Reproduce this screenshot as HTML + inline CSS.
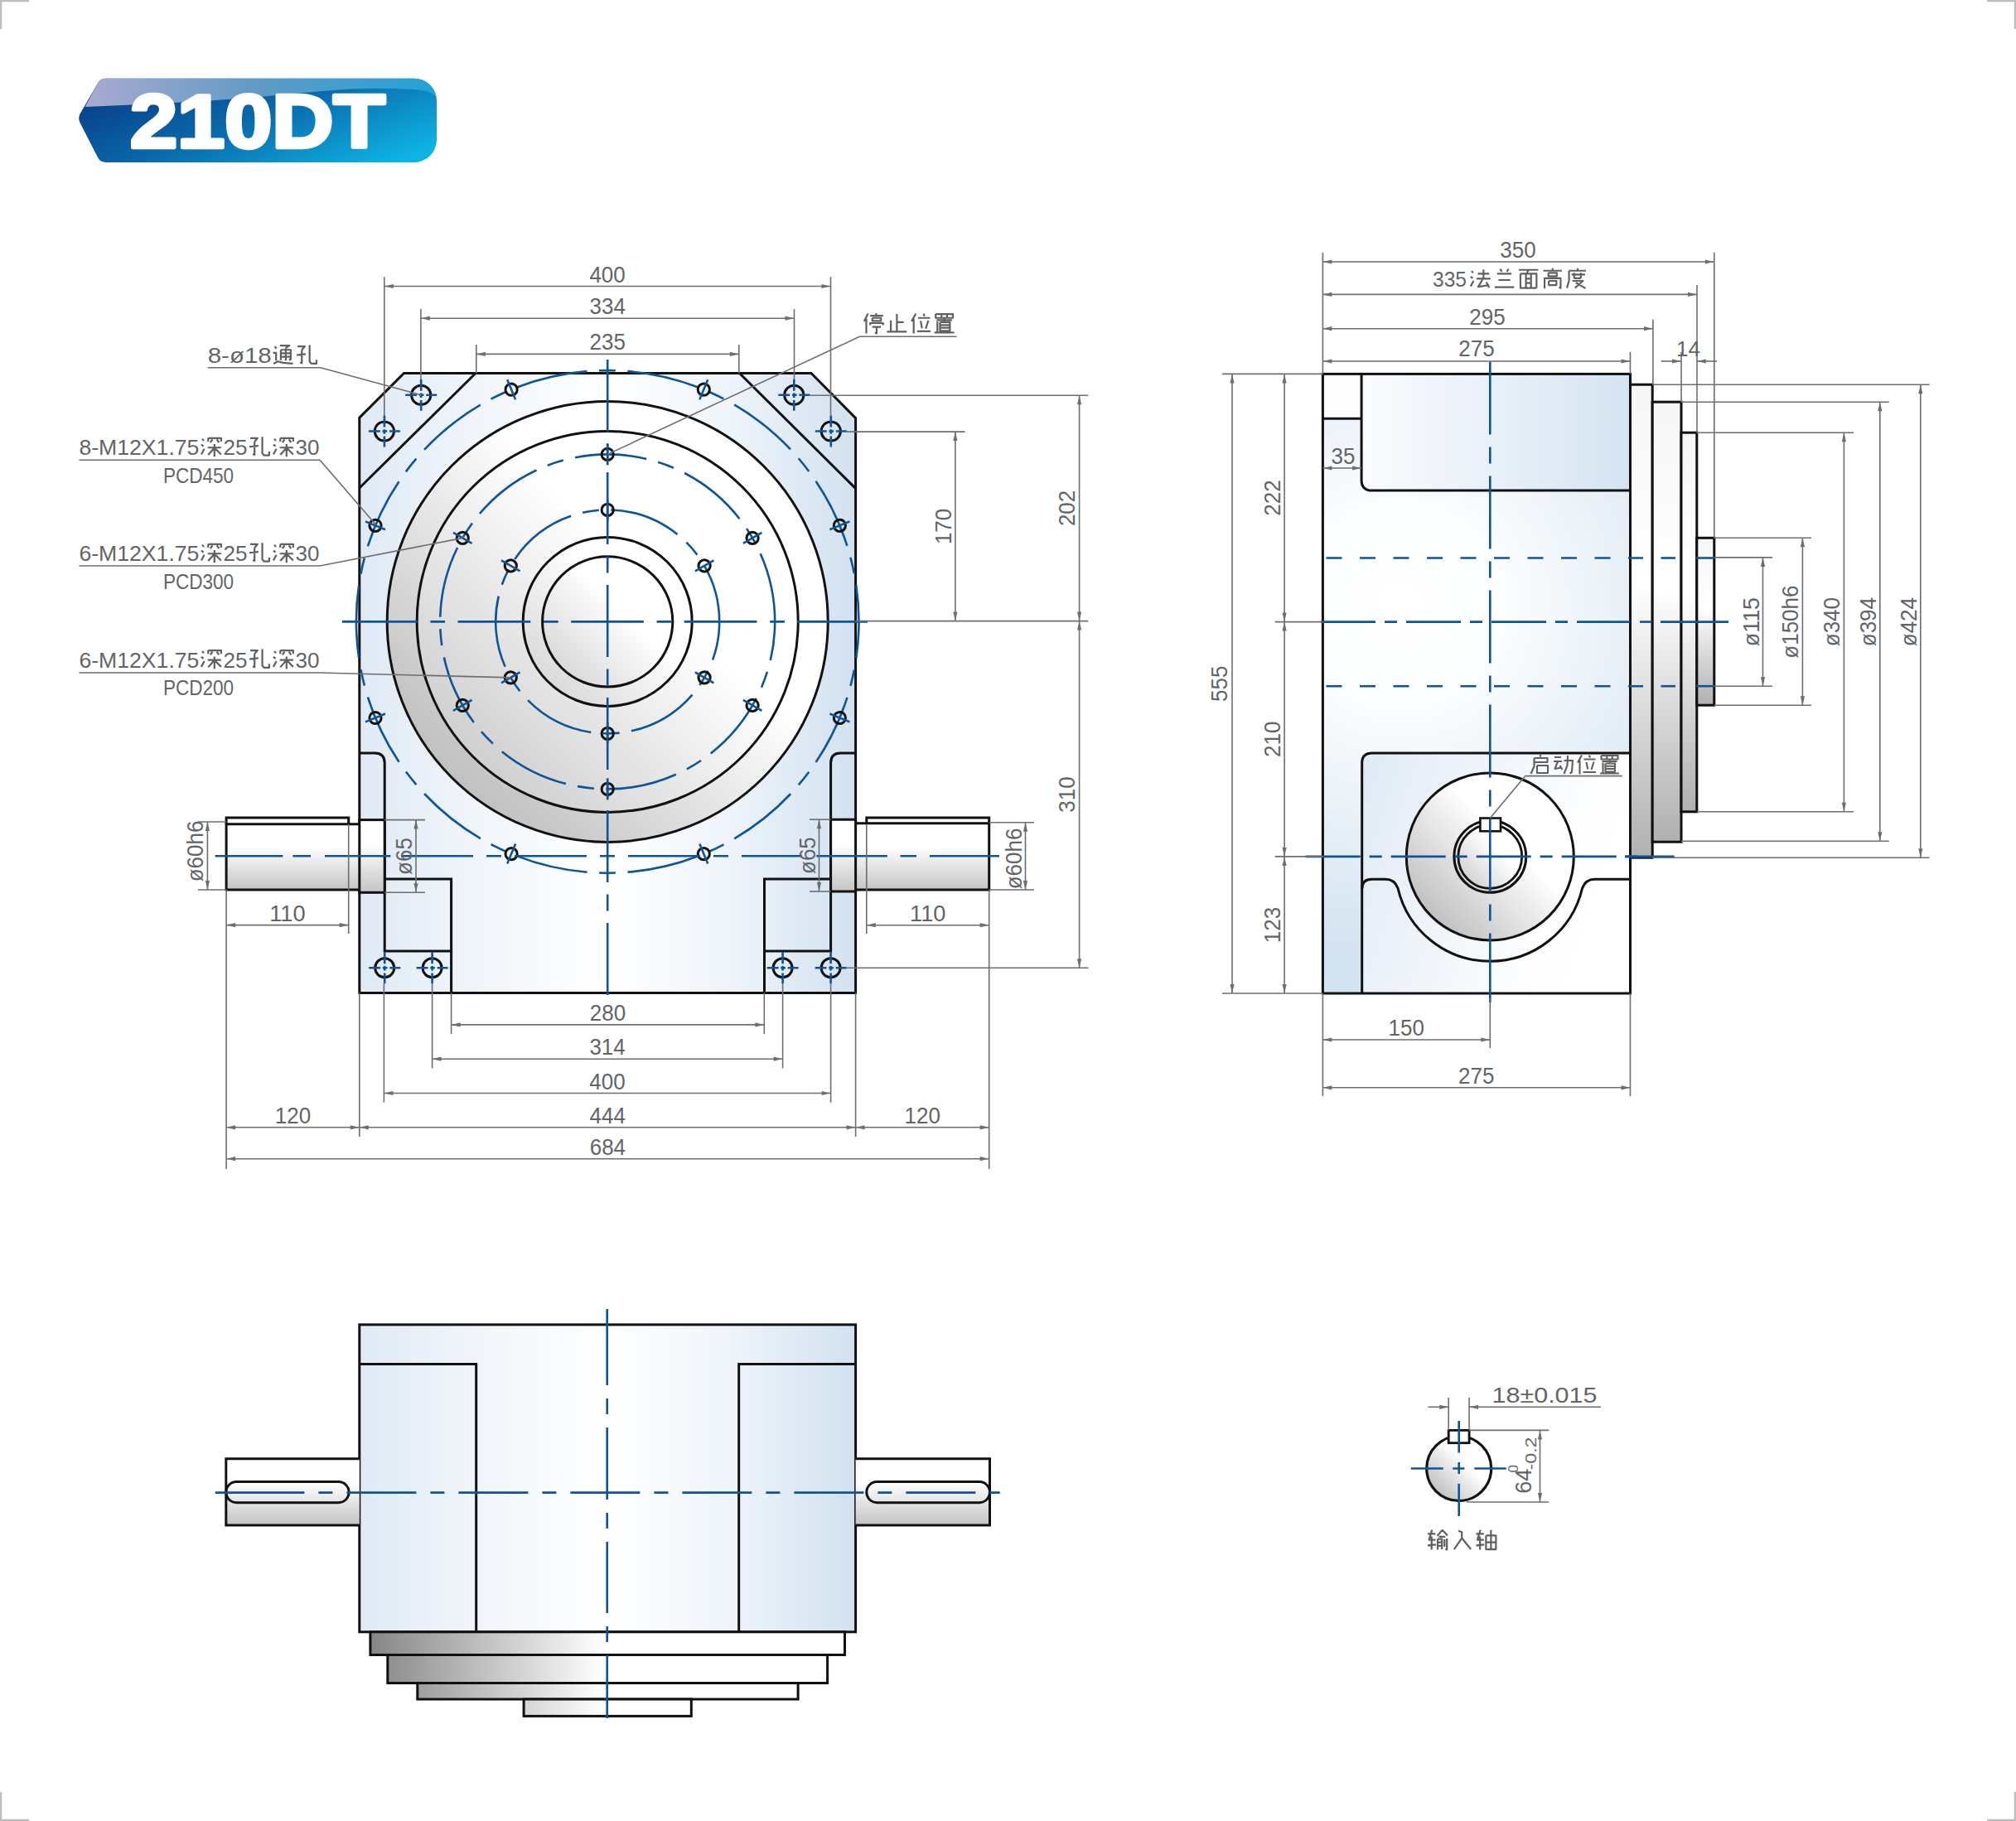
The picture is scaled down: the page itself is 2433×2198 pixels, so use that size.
<!DOCTYPE html><html><head><meta charset="utf-8"><style>
html,body{margin:0;padding:0;background:#fff;width:2433px;height:2198px;overflow:hidden}
svg{display:block}
text{font-family:"Liberation Sans",sans-serif;fill:#626568}
.k{stroke:#111;stroke-width:3.0;fill:none;stroke-linejoin:miter}
.b{stroke:#0f5596;stroke-width:2.6;fill:none}
.c{stroke:#0f5596;stroke-width:2.6;fill:none;stroke-dasharray:84 15 19 15}
.d{stroke:#6e6e6e;stroke-width:1.6;fill:none}
</style></head><body>
<svg width="2433" height="2198" viewBox="0 0 2433 2198">
<defs>
<linearGradient id="gBody" x1="0" y1="0" x2="1" y2="0">
 <stop offset="0" stop-color="#e0eaf5"/><stop offset="0.25" stop-color="#f1f6fb"/><stop offset="0.5" stop-color="#ffffff"/><stop offset="0.75" stop-color="#eef4fa"/><stop offset="1" stop-color="#d2e1f0"/>
</linearGradient>
<linearGradient id="gBodyR" x1="0" y1="0" x2="1" y2="0">
 <stop offset="0" stop-color="#fbfcfe"/><stop offset="1" stop-color="#d5e4f2"/>
</linearGradient>
<radialGradient id="gSide" gradientUnits="userSpaceOnUse" cx="1690" cy="730" r="420">
 <stop offset="0" stop-color="#ffffff"/><stop offset="0.3" stop-color="#fbfdfe"/><stop offset="1" stop-color="#d4e3f1"/>
</radialGradient>
<linearGradient id="gPock" x1="0" y1="0" x2="1" y2="0.3">
 <stop offset="0" stop-color="#e0eaf5"/><stop offset="0.8" stop-color="#fcfdfe"/><stop offset="1" stop-color="#ffffff"/>
</linearGradient>
<linearGradient id="gDisc2" x1="0.1" y1="0.9" x2="0.8" y2="0.2">
 <stop offset="0" stop-color="#cbcbcb"/><stop offset="0.72" stop-color="#ffffff"/><stop offset="1" stop-color="#ffffff"/>
</linearGradient>
<linearGradient id="gDisc3" x1="0.1" y1="0.9" x2="0.8" y2="0.2">
 <stop offset="0" stop-color="#d6d6d6"/><stop offset="0.72" stop-color="#ffffff"/><stop offset="1" stop-color="#ffffff"/>
</linearGradient>
<linearGradient id="gDisc" x1="0.1" y1="0.9" x2="0.8" y2="0.2">
 <stop offset="0" stop-color="#bababa"/><stop offset="0.72" stop-color="#ffffff"/><stop offset="1" stop-color="#ffffff"/>
</linearGradient>
<linearGradient id="gShaft" x1="0" y1="0" x2="0" y2="1">
 <stop offset="0" stop-color="#ffffff"/><stop offset="0.35" stop-color="#ffffff"/><stop offset="1" stop-color="#c4c4c4"/>
</linearGradient>
<linearGradient id="gFl" x1="0" y1="0" x2="0" y2="1">
 <stop offset="0" stop-color="#f6f6f6"/><stop offset="0.42" stop-color="#ffffff"/><stop offset="1" stop-color="#b0b0b0"/>
</linearGradient>
<linearGradient id="gFlH" gradientUnits="userSpaceOnUse" x1="447" y1="0" x2="730" y2="0">
 <stop offset="0" stop-color="#868686"/><stop offset="1" stop-color="#ffffff"/>
</linearGradient>
<linearGradient id="gBadge" x1="0" y1="0.2" x2="1" y2="0.8">
 <stop offset="0" stop-color="#083c86"/><stop offset="0.45" stop-color="#0a66a8"/><stop offset="1" stop-color="#0db3e3"/>
</linearGradient>
<linearGradient id="gHi" x1="0" y1="0" x2="1" y2="0">
 <stop offset="0" stop-color="#aaaad0"/><stop offset="0.5" stop-color="#5f9ac6"/><stop offset="1" stop-color="#22a3d6"/>
</linearGradient>
</defs>

<path d="M35,1 H1 V35" stroke="#bdbdbd" stroke-width="2.5" fill="none"/>
<path d="M2398,1 H2432 V35" stroke="#bdbdbd" stroke-width="2.5" fill="none"/>
<path d="M35,2197 H1 V2163" stroke="#bdbdbd" stroke-width="2.5" fill="none"/>
<path d="M2398,2197 H2432 V2163" stroke="#bdbdbd" stroke-width="2.5" fill="none"/>
<path d="M128,94.8 H500 A27,27 0 0 1 527,121.8 V168.9 A27,27 0 0 1 500,195.9 H128 Q121,195.9 118,190 L96.5,148 Q94,142.7 96.5,137.5 L118,100.6 Q121,94.8 128,94.8 Z" fill="url(#gBadge)"/>
<path d="M128,94.8 H500 A27,27 0 0 1 526.5,117 Q520,109 500,108 Q460,106 422,107.5 Q360,112 308,117.6 Q250,122 200,124.5 Q150,127 102.7,129 L118,100.6 Q121,94.8 128,94.8 Z" fill="url(#gHi)"/>
<text x="311" y="178.3" font-size="91" font-weight="bold" text-anchor="middle" textLength="308" lengthAdjust="spacingAndGlyphs" style="fill:#fff;stroke:#fff;stroke-width:4.5;stroke-linejoin:round">210DT</text>
<path d="M487.5,450.5 H979 L1032.6,504.6 V1198.5 H433.8 V504.2 Z" fill="url(#gBody)" stroke="#111" stroke-width="3.0"/>
<path d="M574,450.5 L433.8,589" class="k" />
<path d="M892.5,450.5 L1032.6,589.6" class="k" />
<path d="M433.8,909 H452.5 Q464.2,909 464.2,921 V1148 H544.6" class="k" />
<path d="M464.2,1061 H544.6 V1198.5" class="k" />
<path d="M1032.6,909 H1014.3 Q1002.6,909 1002.6,921 V1148 H922.5" class="k" />
<path d="M1002.6,1061 H922.5 V1198.5" class="k" />
<circle cx="733.2" cy="750.4" r="266" fill="url(#gDisc)" stroke="#111" stroke-width="3.0"/>
<circle cx="733.2" cy="750.4" r="230" fill="url(#gDisc2)" stroke="#111" stroke-width="3.0"/>
<circle cx="733.2" cy="750.4" r="102" fill="url(#gDisc3)" stroke="#111" stroke-width="3.0"/>
<circle cx="733.2" cy="750.4" r="78.6" fill="url(#gDisc3)" stroke="#111" stroke-width="3.0"/>
<circle cx="733.2" cy="750.4" r="303.3" class="b" stroke-dasharray="87 14.5 20 14.5" stroke-dashoffset="43.1"/>
<circle cx="733.2" cy="750.4" r="202" class="b" stroke-dasharray="87 14.5 20 14.5" stroke-dashoffset="40"/>
<circle cx="733.2" cy="750.4" r="135" class="b" stroke-dasharray="87 14.5 20 14.5" stroke-dashoffset="40"/>
<line x1="733.2" y1="434" x2="733.2" y2="1206" class="b" stroke-dasharray="87 14.5 20 14.5"/>
<line x1="413" y1="750.4" x2="1047" y2="750.4" class="b" stroke-dasharray="90.7 15.7 17.7 15.5 87.7 15.7 17.7 15.5 87.7 15.7 17.7 15.5 87.7 15.7 17.7 15.5 87.7 15.7 17.7 15.5 87.7 15.7 17.7 15.5"/>
<circle cx="1013.4" cy="634.3" r="7.1" fill="none" stroke="#111" stroke-width="3"/>
<line x1="1001.4" y1="639.3" x2="1025.4" y2="629.4" class="b"/>
<circle cx="849.3" cy="470.2" r="7.1" fill="none" stroke="#111" stroke-width="3"/>
<line x1="844.3" y1="482.2" x2="854.2" y2="458.2" class="b"/>
<circle cx="617.1" cy="470.2" r="7.1" fill="none" stroke="#111" stroke-width="3"/>
<line x1="622.1" y1="482.2" x2="612.2" y2="458.2" class="b"/>
<circle cx="453.0" cy="634.3" r="7.1" fill="none" stroke="#111" stroke-width="3"/>
<line x1="465.0" y1="639.3" x2="441.0" y2="629.4" class="b"/>
<circle cx="453.0" cy="866.5" r="7.1" fill="none" stroke="#111" stroke-width="3"/>
<line x1="465.0" y1="861.5" x2="441.0" y2="871.4" class="b"/>
<circle cx="617.1" cy="1030.6" r="7.1" fill="none" stroke="#111" stroke-width="3"/>
<line x1="622.1" y1="1018.6" x2="612.2" y2="1042.6" class="b"/>
<circle cx="849.3" cy="1030.6" r="7.1" fill="none" stroke="#111" stroke-width="3"/>
<line x1="844.3" y1="1018.6" x2="854.2" y2="1042.6" class="b"/>
<circle cx="1013.4" cy="866.5" r="7.1" fill="none" stroke="#111" stroke-width="3"/>
<line x1="1001.4" y1="861.5" x2="1025.4" y2="871.4" class="b"/>
<circle cx="908.1" cy="649.4" r="7.1" fill="none" stroke="#111" stroke-width="3"/>
<line x1="896.9" y1="655.9" x2="919.4" y2="642.9" class="b"/>
<circle cx="850.1" cy="682.9" r="7.1" fill="none" stroke="#111" stroke-width="3"/>
<line x1="838.9" y1="689.4" x2="861.4" y2="676.4" class="b"/>
<circle cx="733.2" cy="548.4" r="7.1" fill="none" stroke="#111" stroke-width="3"/>
<line x1="733.2" y1="561.4" x2="733.2" y2="535.4" class="b"/>
<circle cx="733.2" cy="615.4" r="7.1" fill="none" stroke="#111" stroke-width="3"/>
<line x1="733.2" y1="628.4" x2="733.2" y2="602.4" class="b"/>
<circle cx="558.3" cy="649.4" r="7.1" fill="none" stroke="#111" stroke-width="3"/>
<line x1="569.5" y1="655.9" x2="547.0" y2="642.9" class="b"/>
<circle cx="616.3" cy="682.9" r="7.1" fill="none" stroke="#111" stroke-width="3"/>
<line x1="627.5" y1="689.4" x2="605.0" y2="676.4" class="b"/>
<circle cx="558.3" cy="851.4" r="7.1" fill="none" stroke="#111" stroke-width="3"/>
<line x1="569.5" y1="844.9" x2="547.0" y2="857.9" class="b"/>
<circle cx="616.3" cy="817.9" r="7.1" fill="none" stroke="#111" stroke-width="3"/>
<line x1="627.5" y1="811.4" x2="605.0" y2="824.4" class="b"/>
<circle cx="733.2" cy="952.4" r="7.1" fill="none" stroke="#111" stroke-width="3"/>
<line x1="733.2" y1="939.4" x2="733.2" y2="965.4" class="b"/>
<circle cx="733.2" cy="885.4" r="7.1" fill="none" stroke="#111" stroke-width="3"/>
<line x1="733.2" y1="872.4" x2="733.2" y2="898.4" class="b"/>
<circle cx="908.1" cy="851.4" r="7.1" fill="none" stroke="#111" stroke-width="3"/>
<line x1="896.9" y1="844.9" x2="919.4" y2="857.9" class="b"/>
<circle cx="850.1" cy="817.9" r="7.1" fill="none" stroke="#111" stroke-width="3"/>
<line x1="838.9" y1="811.4" x2="861.4" y2="824.4" class="b"/>
<circle cx="508.2" cy="476.8" r="11.6" fill="none" stroke="#111" stroke-width="3"/>
<line x1="489.2" y1="476.8" x2="527.2" y2="476.8" class="b" stroke-dasharray="13.9 2.8 5.6 2.8 13.9"/>
<line x1="508.2" y1="457.8" x2="508.2" y2="495.8" class="b" stroke-dasharray="13.9 2.8 5.6 2.8 13.9"/>
<circle cx="463.9" cy="520.5" r="11.6" fill="none" stroke="#111" stroke-width="3"/>
<line x1="444.9" y1="520.5" x2="482.9" y2="520.5" class="b" stroke-dasharray="13.9 2.8 5.6 2.8 13.9"/>
<line x1="463.9" y1="501.5" x2="463.9" y2="539.5" class="b" stroke-dasharray="13.9 2.8 5.6 2.8 13.9"/>
<circle cx="958.3" cy="476.8" r="11.6" fill="none" stroke="#111" stroke-width="3"/>
<line x1="939.3" y1="476.8" x2="977.3" y2="476.8" class="b" stroke-dasharray="13.9 2.8 5.6 2.8 13.9"/>
<line x1="958.3" y1="457.8" x2="958.3" y2="495.8" class="b" stroke-dasharray="13.9 2.8 5.6 2.8 13.9"/>
<circle cx="1002.8" cy="520.5" r="11.6" fill="none" stroke="#111" stroke-width="3"/>
<line x1="983.8" y1="520.5" x2="1021.8" y2="520.5" class="b" stroke-dasharray="13.9 2.8 5.6 2.8 13.9"/>
<line x1="1002.8" y1="501.5" x2="1002.8" y2="539.5" class="b" stroke-dasharray="13.9 2.8 5.6 2.8 13.9"/>
<circle cx="464.2" cy="1168.3" r="11.5" fill="none" stroke="#111" stroke-width="3"/>
<line x1="445.2" y1="1168.3" x2="483.2" y2="1168.3" class="b" stroke-dasharray="13.9 2.8 5.6 2.8 13.9"/>
<line x1="464.2" y1="1149.3" x2="464.2" y2="1187.3" class="b" stroke-dasharray="13.9 2.8 5.6 2.8 13.9"/>
<circle cx="521.6" cy="1168.3" r="11.5" fill="none" stroke="#111" stroke-width="3"/>
<line x1="502.6" y1="1168.3" x2="540.6" y2="1168.3" class="b" stroke-dasharray="13.9 2.8 5.6 2.8 13.9"/>
<line x1="521.6" y1="1149.3" x2="521.6" y2="1187.3" class="b" stroke-dasharray="13.9 2.8 5.6 2.8 13.9"/>
<circle cx="944.6" cy="1168.3" r="11.5" fill="none" stroke="#111" stroke-width="3"/>
<line x1="925.6" y1="1168.3" x2="963.6" y2="1168.3" class="b" stroke-dasharray="13.9 2.8 5.6 2.8 13.9"/>
<line x1="944.6" y1="1149.3" x2="944.6" y2="1187.3" class="b" stroke-dasharray="13.9 2.8 5.6 2.8 13.9"/>
<circle cx="1002.6" cy="1168.3" r="11.5" fill="none" stroke="#111" stroke-width="3"/>
<line x1="983.6" y1="1168.3" x2="1021.6" y2="1168.3" class="b" stroke-dasharray="13.9 2.8 5.6 2.8 13.9"/>
<line x1="1002.6" y1="1149.3" x2="1002.6" y2="1187.3" class="b" stroke-dasharray="13.9 2.8 5.6 2.8 13.9"/>
<rect x="273.1" y="994.7" width="160.7" height="79.3" fill="url(#gShaft)"/>
<path d="M433.8,994.7 H273.1 V1074 H433.8" class="k" />
<path d="M273.1,994.7 V987.1 H420.7 V994.7" class="k" />
<rect x="433.8" y="989.6" width="30.4" height="87.7" fill="url(#gShaft)" stroke="#111" stroke-width="3.0"/>
<rect x="1032.6" y="993.7" width="161.1" height="80.3" fill="url(#gShaft)"/>
<path d="M1032.6,993.7 H1193.7 V1074 H1032.6" class="k" />
<path d="M1193.7,993.7 V987.1 H1045.8 V993.7" class="k" />
<rect x="1002.6" y="989.2" width="30.0" height="86.8" fill="url(#gShaft)" stroke="#111" stroke-width="3.0"/>
<path d="M259.6,1033.3 H341.4 M353.4,1033.3 H375.1 M392,1033.3 H471.3 M484,1033.3 H571 M587,1033.3 H605 M621,1033.3 H708 M724,1033.3 H742 M758,1033.3 H845 M861,1033.3 H879 M895,1033.3 H968 M985.4,1033.3 H1070.8 M1086.5,1033.3 H1106 M1121.9,1033.3 H1206" class="b"/>
<line x1="463.8" y1="334.2" x2="463.8" y2="501.5" class="d"/>
<line x1="1002.5" y1="334.2" x2="1002.5" y2="501.5" class="d"/>
<line x1="463.8" y1="345.5" x2="1002.5" y2="345.5" class="d"/>
<path d="M463.8,345.5 L474.8,342.9 L474.8,348.1Z" fill="#6e6e6e"/>
<path d="M1002.5,345.5 L991.5,348.1 L991.5,342.9Z" fill="#6e6e6e"/>
<text x="733.1" y="340.5" font-size="28.5" text-anchor="middle" textLength="43.4" lengthAdjust="spacingAndGlyphs">400</text>
<line x1="507.9" y1="372.9" x2="507.9" y2="457.8" class="d"/>
<line x1="958.5" y1="372.9" x2="958.5" y2="457.8" class="d"/>
<line x1="507.9" y1="384.2" x2="958.5" y2="384.2" class="d"/>
<path d="M507.9,384.2 L518.9,381.6 L518.9,386.8Z" fill="#6e6e6e"/>
<path d="M958.5,384.2 L947.5,386.8 L947.5,381.6Z" fill="#6e6e6e"/>
<text x="733.2" y="379.2" font-size="28.5" text-anchor="middle" textLength="43.4" lengthAdjust="spacingAndGlyphs">334</text>
<line x1="574.8" y1="416.0" x2="574.8" y2="450.5" class="d"/>
<line x1="891.8" y1="416.0" x2="891.8" y2="450.5" class="d"/>
<line x1="574.8" y1="427.4" x2="891.8" y2="427.4" class="d"/>
<path d="M574.8,427.4 L585.8,424.8 L585.8,430.0Z" fill="#6e6e6e"/>
<path d="M891.8,427.4 L880.8,430.0 L880.8,424.8Z" fill="#6e6e6e"/>
<text x="733.3" y="422.4" font-size="28.5" text-anchor="middle" textLength="43.4" lengthAdjust="spacingAndGlyphs">235</text>
<line x1="977.3" y1="477.2" x2="1313.2" y2="477.2" class="d"/>
<line x1="1021.8" y1="521.1" x2="1164.6" y2="521.1" class="d"/>
<line x1="1032.6" y1="749.6" x2="1313.2" y2="749.6" class="d"/>
<line x1="1021.6" y1="1168.3" x2="1313.5" y2="1168.3" class="d"/>
<line x1="1152.9" y1="521.1" x2="1152.9" y2="749.6" class="d"/>
<path d="M1152.9,521.1 L1155.5,532.1 L1150.3,532.1Z" fill="#6e6e6e"/>
<path d="M1152.9,749.6 L1150.3,738.6 L1155.5,738.6Z" fill="#6e6e6e"/>
<text transform="translate(1147.5,635.4) rotate(-90)" font-size="28.5" text-anchor="middle" textLength="43.4" lengthAdjust="spacingAndGlyphs">170</text>
<line x1="1302.6" y1="477.2" x2="1302.6" y2="749.6" class="d"/>
<path d="M1302.6,477.2 L1305.2,488.2 L1300.0,488.2Z" fill="#6e6e6e"/>
<path d="M1302.6,749.6 L1300.0,738.6 L1305.2,738.6Z" fill="#6e6e6e"/>
<text transform="translate(1297.0,613.4) rotate(-90)" font-size="28.5" text-anchor="middle" textLength="43.4" lengthAdjust="spacingAndGlyphs">202</text>
<line x1="1302.6" y1="749.6" x2="1302.6" y2="1168.3" class="d"/>
<path d="M1302.6,749.6 L1305.2,760.6 L1300.0,760.6Z" fill="#6e6e6e"/>
<path d="M1302.6,1168.3 L1300.0,1157.3 L1305.2,1157.3Z" fill="#6e6e6e"/>
<text transform="translate(1297.0,959.0) rotate(-90)" font-size="28.5" text-anchor="middle" textLength="43.4" lengthAdjust="spacingAndGlyphs">310</text>
<line x1="273.1" y1="1074.0" x2="273.1" y2="1411.0" class="d"/>
<line x1="420.7" y1="995.0" x2="420.7" y2="1127.0" class="d"/>
<line x1="273.1" y1="1116.6" x2="420.7" y2="1116.6" class="d"/>
<path d="M273.1,1116.6 L284.1,1114.0 L284.1,1119.2Z" fill="#6e6e6e"/>
<path d="M420.7,1116.6 L409.7,1119.2 L409.7,1114.0Z" fill="#6e6e6e"/>
<text x="346.9" y="1111.6" font-size="28.5" text-anchor="middle" textLength="43.4" lengthAdjust="spacingAndGlyphs">110</text>
<line x1="239.0" y1="992.0" x2="273.1" y2="992.0" class="d"/>
<line x1="239.0" y1="1074.0" x2="273.1" y2="1074.0" class="d"/>
<line x1="250.4" y1="992.0" x2="250.4" y2="1074.0" class="d"/>
<path d="M250.4,992.0 L253.0,1003.0 L247.8,1003.0Z" fill="#6e6e6e"/>
<path d="M250.4,1074.0 L247.8,1063.0 L253.0,1063.0Z" fill="#6e6e6e"/>
<text transform="translate(245.0,1027.5) rotate(-90)" font-size="28.5" text-anchor="middle" textLength="73.7" lengthAdjust="spacingAndGlyphs">ø60h6</text>
<line x1="464.2" y1="989.6" x2="513.0" y2="989.6" class="d"/>
<line x1="464.2" y1="1077.3" x2="513.0" y2="1077.3" class="d"/>
<line x1="502.0" y1="989.6" x2="502.0" y2="1077.3" class="d"/>
<path d="M502.0,989.6 L504.6,1000.6 L499.4,1000.6Z" fill="#6e6e6e"/>
<path d="M502.0,1077.3 L499.4,1066.3 L504.6,1066.3Z" fill="#6e6e6e"/>
<text transform="translate(497.0,1033.5) rotate(-90)" font-size="28.5" text-anchor="middle" textLength="44.8" lengthAdjust="spacingAndGlyphs">ø65</text>
<line x1="1193.7" y1="1074.0" x2="1193.7" y2="1411.0" class="d"/>
<line x1="1045.8" y1="995.0" x2="1045.8" y2="1127.0" class="d"/>
<line x1="1045.8" y1="1116.7" x2="1193.7" y2="1116.7" class="d"/>
<path d="M1045.8,1116.7 L1056.8,1114.1 L1056.8,1119.3Z" fill="#6e6e6e"/>
<path d="M1193.7,1116.7 L1182.7,1119.3 L1182.7,1114.1Z" fill="#6e6e6e"/>
<text x="1119.8" y="1111.7" font-size="28.5" text-anchor="middle" textLength="43.4" lengthAdjust="spacingAndGlyphs">110</text>
<line x1="1193.7" y1="992.7" x2="1247.9" y2="992.7" class="d"/>
<line x1="1193.7" y1="1074.0" x2="1247.9" y2="1074.0" class="d"/>
<line x1="1237.5" y1="992.7" x2="1237.5" y2="1074.0" class="d"/>
<path d="M1237.5,992.7 L1240.1,1003.7 L1234.9,1003.7Z" fill="#6e6e6e"/>
<path d="M1237.5,1074.0 L1234.9,1063.0 L1240.1,1063.0Z" fill="#6e6e6e"/>
<text transform="translate(1232.5,1036.5) rotate(-90)" font-size="28.5" text-anchor="middle" textLength="73.7" lengthAdjust="spacingAndGlyphs">ø60h6</text>
<line x1="977.0" y1="989.2" x2="1002.6" y2="989.2" class="d"/>
<line x1="977.0" y1="1076.0" x2="1002.6" y2="1076.0" class="d"/>
<line x1="988.5" y1="989.2" x2="988.5" y2="1076.0" class="d"/>
<path d="M988.5,989.2 L991.1,1000.2 L985.9,1000.2Z" fill="#6e6e6e"/>
<path d="M988.5,1076.0 L985.9,1065.0 L991.1,1065.0Z" fill="#6e6e6e"/>
<text transform="translate(984.0,1032.6) rotate(-90)" font-size="28.5" text-anchor="middle" textLength="44.8" lengthAdjust="spacingAndGlyphs">ø65</text>
<line x1="544.6" y1="1198.5" x2="544.6" y2="1248.0" class="d"/>
<line x1="922.3" y1="1198.5" x2="922.3" y2="1248.0" class="d"/>
<line x1="544.6" y1="1236.9" x2="922.3" y2="1236.9" class="d"/>
<path d="M544.6,1236.9 L555.6,1234.3 L555.6,1239.5Z" fill="#6e6e6e"/>
<path d="M922.3,1236.9 L911.3,1239.5 L911.3,1234.3Z" fill="#6e6e6e"/>
<text x="733.5" y="1231.9" font-size="28.5" text-anchor="middle" textLength="43.4" lengthAdjust="spacingAndGlyphs">280</text>
<line x1="521.6" y1="1187.3" x2="521.6" y2="1289.4" class="d"/>
<line x1="944.6" y1="1187.3" x2="944.6" y2="1289.4" class="d"/>
<line x1="521.6" y1="1278.2" x2="944.6" y2="1278.2" class="d"/>
<path d="M521.6,1278.2 L532.6,1275.6 L532.6,1280.8Z" fill="#6e6e6e"/>
<path d="M944.6,1278.2 L933.6,1280.8 L933.6,1275.6Z" fill="#6e6e6e"/>
<text x="733.1" y="1273.2" font-size="28.5" text-anchor="middle" textLength="43.4" lengthAdjust="spacingAndGlyphs">314</text>
<line x1="463.4" y1="1187.3" x2="463.4" y2="1330.7" class="d"/>
<line x1="1002.6" y1="1187.3" x2="1002.6" y2="1330.7" class="d"/>
<line x1="463.4" y1="1319.5" x2="1002.6" y2="1319.5" class="d"/>
<path d="M463.4,1319.5 L474.4,1316.9 L474.4,1322.1Z" fill="#6e6e6e"/>
<path d="M1002.6,1319.5 L991.6,1322.1 L991.6,1316.9Z" fill="#6e6e6e"/>
<text x="733.0" y="1314.5" font-size="28.5" text-anchor="middle" textLength="43.4" lengthAdjust="spacingAndGlyphs">400</text>
<line x1="433.8" y1="1198.5" x2="433.8" y2="1372.0" class="d"/>
<line x1="1032.6" y1="1198.5" x2="1032.6" y2="1372.0" class="d"/>
<line x1="433.8" y1="1360.8" x2="1032.6" y2="1360.8" class="d"/>
<path d="M433.8,1360.8 L444.8,1358.2 L444.8,1363.4Z" fill="#6e6e6e"/>
<path d="M1032.6,1360.8 L1021.6,1363.4 L1021.6,1358.2Z" fill="#6e6e6e"/>
<text x="733.2" y="1355.8" font-size="28.5" text-anchor="middle" textLength="43.4" lengthAdjust="spacingAndGlyphs">444</text>
<line x1="273.1" y1="1360.8" x2="433.8" y2="1360.8" class="d"/>
<path d="M273.1,1360.8 L284.1,1358.2 L284.1,1363.4Z" fill="#6e6e6e"/>
<path d="M433.8,1360.8 L422.8,1363.4 L422.8,1358.2Z" fill="#6e6e6e"/>
<text x="353.5" y="1355.8" font-size="28.5" text-anchor="middle" textLength="43.4" lengthAdjust="spacingAndGlyphs">120</text>
<line x1="1032.6" y1="1360.8" x2="1193.7" y2="1360.8" class="d"/>
<path d="M1032.6,1360.8 L1043.6,1358.2 L1043.6,1363.4Z" fill="#6e6e6e"/>
<path d="M1193.7,1360.8 L1182.7,1363.4 L1182.7,1358.2Z" fill="#6e6e6e"/>
<text x="1113.2" y="1355.8" font-size="28.5" text-anchor="middle" textLength="43.4" lengthAdjust="spacingAndGlyphs">120</text>
<line x1="273.1" y1="1398.7" x2="1193.7" y2="1398.7" class="d"/>
<path d="M273.1,1398.7 L284.1,1396.1 L284.1,1401.3Z" fill="#6e6e6e"/>
<path d="M1193.7,1398.7 L1182.7,1401.3 L1182.7,1396.1Z" fill="#6e6e6e"/>
<text x="733.4" y="1393.7" font-size="28.5" text-anchor="middle" textLength="43.4" lengthAdjust="spacingAndGlyphs">684</text>
<rect x="1596.4" y="451.4" width="371.1" height="747.6" fill="url(#gSide)"/>
<path d="M1643.7,1199.0 V921 Q1643.7,909 1655.7,909 H1967.5 V1199.0 Z" fill="url(#gPock)"/>
<path d="M1643.1,451.4 V580 Q1643.1,592 1655.7,592 H1967.5 V451.4 Z" fill="url(#gBodyR)"/>
<rect x="1596.4" y="451.4" width="46.7" height="53.8" fill="#fdfdfe"/>
<rect x="1596.4" y="451.4" width="371.1" height="747.6" class="k"/>
<path d="M1596.4,505.2 H1643.1" class="k" />
<path d="M1643.1,451.4 V579.4 Q1643.1,592 1655.7,592 H1967.5" class="k" />
<path d="M1643.7,1199.0 V921 Q1643.7,909 1655.7,909 H1967.5" class="k" />
<path d="M1643.7,1073 Q1643.7,1061.3 1655.7,1061.3 H1672 Q1683,1061.3 1687,1072 A114.3,114.3 0 0 0 1909.6,1072 Q1913.6,1061.3 1924.6,1061.3 H1967.5" class="k" />
<circle cx="1798.3" cy="1033.9" r="101" fill="url(#gDisc)" stroke="#111" stroke-width="3.0"/>
<circle cx="1798.3" cy="1033.9" r="43.4" fill="url(#gDisc2)" stroke="#111" stroke-width="3"/>
<circle cx="1798.3" cy="1033.9" r="38.4" fill="none" stroke="#111" stroke-width="2.8"/>
<rect x="1786.4" y="987.5" width="24.6" height="15.8" fill="#fff" stroke="#111" stroke-width="2.6"/>
<rect x="1967.5" y="464.2" width="26.7" height="571.0" fill="url(#gFl)" stroke="#111" stroke-width="3.0"/>
<rect x="1994.2" y="485.2" width="34.8" height="531.0" fill="url(#gFl)" stroke="#111" stroke-width="3.0"/>
<rect x="2029" y="522.2" width="18.8" height="457.6" fill="url(#gFl)" stroke="#111" stroke-width="3.0"/>
<rect x="2047.8" y="649.3" width="21.0" height="201.9" fill="url(#gFl)" stroke="#111" stroke-width="3.0"/>
<line x1="1600.5" y1="673.5" x2="1983" y2="673.5" class="b" stroke-dasharray="19 21.5"/>
<line x1="2004.5" y1="673.5" x2="2022" y2="673.5" class="b"/>
<line x1="2047" y1="673.5" x2="2068.8" y2="673.5" class="b"/>
<line x1="1600.5" y1="828.2" x2="1983" y2="828.2" class="b" stroke-dasharray="19 21.5"/>
<line x1="2004.5" y1="828.2" x2="2022" y2="828.2" class="b"/>
<line x1="2047" y1="828.2" x2="2068.8" y2="828.2" class="b"/>
<line x1="1798.3" y1="436.6" x2="1798.3" y2="1210" class="b" stroke-dasharray="88 15 20 15"/>
<line x1="1594" y1="750.6" x2="1967" y2="750.6" class="b" stroke-dasharray="66 11 15 11"/>
<line x1="1979" y1="750.6" x2="1993.5" y2="750.6" class="b"/>
<line x1="2004" y1="750.6" x2="2086" y2="750.6" class="b"/>
<line x1="1575.7" y1="1033.9" x2="1983" y2="1033.9" class="b" stroke-dasharray="66 11 15 11"/>
<line x1="1961" y1="1033.9" x2="2020.7" y2="1033.9" class="b"/>
<line x1="1596.4" y1="304.8" x2="1596.4" y2="451.4" class="d"/>
<line x1="2068.8" y1="304.8" x2="2068.8" y2="649.3" class="d"/>
<line x1="2048.0" y1="344.0" x2="2048.0" y2="522.2" class="d"/>
<line x1="1994.9" y1="385.4" x2="1994.9" y2="464.2" class="d"/>
<line x1="1967.5" y1="424.8" x2="1967.5" y2="451.4" class="d"/>
<line x1="2029.0" y1="425.0" x2="2029.0" y2="485.2" class="d"/>
<line x1="1596.4" y1="316.0" x2="2068.8" y2="316.0" class="d"/>
<path d="M1596.4,316.0 L1607.4,313.4 L1607.4,318.6Z" fill="#6e6e6e"/>
<path d="M2068.8,316.0 L2057.8,318.6 L2057.8,313.4Z" fill="#6e6e6e"/>
<text x="1832.0" y="311.3" font-size="28.5" text-anchor="middle" textLength="43.4" lengthAdjust="spacingAndGlyphs">350</text>
<line x1="1596.4" y1="355.4" x2="2048.0" y2="355.4" class="d"/>
<path d="M1596.4,355.4 L1607.4,352.8 L1607.4,358.0Z" fill="#6e6e6e"/>
<path d="M2048.0,355.4 L2037.0,358.0 L2037.0,352.8Z" fill="#6e6e6e"/>
<text x="1729" y="346" font-size="26" textLength="41" lengthAdjust="spacingAndGlyphs">335</text>
<line x1="1596.4" y1="396.7" x2="1994.9" y2="396.7" class="d"/>
<path d="M1596.4,396.7 L1607.4,394.1 L1607.4,399.3Z" fill="#6e6e6e"/>
<path d="M1994.9,396.7 L1983.9,399.3 L1983.9,394.1Z" fill="#6e6e6e"/>
<text x="1795.0" y="391.9" font-size="28.5" text-anchor="middle" textLength="43.4" lengthAdjust="spacingAndGlyphs">295</text>
<line x1="1596.4" y1="436.0" x2="1967.5" y2="436.0" class="d"/>
<path d="M1596.4,436.0 L1607.4,433.4 L1607.4,438.6Z" fill="#6e6e6e"/>
<path d="M1967.5,436.0 L1956.5,438.6 L1956.5,433.4Z" fill="#6e6e6e"/>
<text x="1782.0" y="430.2" font-size="28.5" text-anchor="middle" textLength="43.4" lengthAdjust="spacingAndGlyphs">275</text>
<line x1="2004.6" y1="436.0" x2="2029.0" y2="436.0" class="d"/>
<path d="M2029.0,436.0 L2018.0,438.6 L2018.0,433.4Z" fill="#6e6e6e"/>
<line x1="2047.8" y1="436.0" x2="2072.0" y2="436.0" class="d"/>
<path d="M2047.8,436.0 L2058.8,433.4 L2058.8,438.6Z" fill="#6e6e6e"/>
<text x="2037.5" y="430" font-size="26" text-anchor="middle">14</text>
<line x1="1596.4" y1="565.0" x2="1643.1" y2="565.0" class="d"/>
<path d="M1596.4,565.0 L1607.4,562.4 L1607.4,567.6Z" fill="#6e6e6e"/>
<path d="M1643.1,565.0 L1632.1,567.6 L1632.1,562.4Z" fill="#6e6e6e"/>
<text x="1621.0" y="560.0" font-size="28.5" text-anchor="middle" textLength="28.9" lengthAdjust="spacingAndGlyphs">35</text>
<line x1="1475.0" y1="451.4" x2="1596.4" y2="451.4" class="d"/>
<line x1="1475.0" y1="1199.0" x2="1596.4" y2="1199.0" class="d"/>
<line x1="1538.6" y1="750.6" x2="1596.4" y2="750.6" class="d"/>
<line x1="1538.6" y1="1033.9" x2="1596.4" y2="1033.9" class="d"/>
<line x1="1487.0" y1="451.4" x2="1487.0" y2="1199.0" class="d"/>
<path d="M1487.0,451.4 L1489.6,462.4 L1484.4,462.4Z" fill="#6e6e6e"/>
<path d="M1487.0,1199.0 L1484.4,1188.0 L1489.6,1188.0Z" fill="#6e6e6e"/>
<text transform="translate(1481.0,825.2) rotate(-90)" font-size="28.5" text-anchor="middle" textLength="43.4" lengthAdjust="spacingAndGlyphs">555</text>
<line x1="1550.1" y1="451.4" x2="1550.1" y2="750.6" class="d"/>
<path d="M1550.1,451.4 L1552.7,462.4 L1547.5,462.4Z" fill="#6e6e6e"/>
<path d="M1550.1,750.6 L1547.5,739.6 L1552.7,739.6Z" fill="#6e6e6e"/>
<text transform="translate(1544.5,601.0) rotate(-90)" font-size="28.5" text-anchor="middle" textLength="43.4" lengthAdjust="spacingAndGlyphs">222</text>
<line x1="1550.1" y1="750.6" x2="1550.1" y2="1033.9" class="d"/>
<path d="M1550.1,750.6 L1552.7,761.6 L1547.5,761.6Z" fill="#6e6e6e"/>
<path d="M1550.1,1033.9 L1547.5,1022.9 L1552.7,1022.9Z" fill="#6e6e6e"/>
<text transform="translate(1544.5,892.2) rotate(-90)" font-size="28.5" text-anchor="middle" textLength="43.4" lengthAdjust="spacingAndGlyphs">210</text>
<line x1="1550.1" y1="1033.9" x2="1550.1" y2="1199.0" class="d"/>
<path d="M1550.1,1033.9 L1552.7,1044.9 L1547.5,1044.9Z" fill="#6e6e6e"/>
<path d="M1550.1,1199.0 L1547.5,1188.0 L1552.7,1188.0Z" fill="#6e6e6e"/>
<text transform="translate(1544.5,1116.5) rotate(-90)" font-size="28.5" text-anchor="middle" textLength="43.4" lengthAdjust="spacingAndGlyphs">123</text>
<line x1="1596.4" y1="1199.0" x2="1596.4" y2="1323.0" class="d"/>
<line x1="1967.5" y1="1199.0" x2="1967.5" y2="1323.0" class="d"/>
<line x1="1798.3" y1="1205.0" x2="1798.3" y2="1265.0" class="d"/>
<line x1="1596.4" y1="1255.0" x2="1798.3" y2="1255.0" class="d"/>
<path d="M1596.4,1255.0 L1607.4,1252.4 L1607.4,1257.6Z" fill="#6e6e6e"/>
<path d="M1798.3,1255.0 L1787.3,1257.6 L1787.3,1252.4Z" fill="#6e6e6e"/>
<text x="1697.2" y="1250.0" font-size="28.5" text-anchor="middle" textLength="43.4" lengthAdjust="spacingAndGlyphs">150</text>
<line x1="1596.4" y1="1312.8" x2="1967.5" y2="1312.8" class="d"/>
<path d="M1596.4,1312.8 L1607.4,1310.2 L1607.4,1315.4Z" fill="#6e6e6e"/>
<path d="M1967.5,1312.8 L1956.5,1315.4 L1956.5,1310.2Z" fill="#6e6e6e"/>
<text x="1781.7" y="1307.8" font-size="28.5" text-anchor="middle" textLength="43.4" lengthAdjust="spacingAndGlyphs">275</text>
<line x1="1994.2" y1="464.2" x2="2328.6" y2="464.2" class="d"/>
<line x1="1994.2" y1="1035.2" x2="2328.6" y2="1035.2" class="d"/>
<line x1="2317.8" y1="464.2" x2="2317.8" y2="1035.2" class="d"/>
<path d="M2317.8,464.2 L2320.4,475.2 L2315.2,475.2Z" fill="#6e6e6e"/>
<path d="M2317.8,1035.2 L2315.2,1024.2 L2320.4,1024.2Z" fill="#6e6e6e"/>
<text transform="translate(2312.8,750.6) rotate(-90)" font-size="28.5" text-anchor="middle" textLength="59.3" lengthAdjust="spacingAndGlyphs">ø424</text>
<line x1="2029.0" y1="485.2" x2="2279.7" y2="485.2" class="d"/>
<line x1="2029.0" y1="1015.3" x2="2279.7" y2="1015.3" class="d"/>
<line x1="2268.8" y1="485.2" x2="2268.8" y2="1015.3" class="d"/>
<path d="M2268.8,485.2 L2271.4,496.2 L2266.2,496.2Z" fill="#6e6e6e"/>
<path d="M2268.8,1015.3 L2266.2,1004.3 L2271.4,1004.3Z" fill="#6e6e6e"/>
<text transform="translate(2263.8,750.6) rotate(-90)" font-size="28.5" text-anchor="middle" textLength="59.3" lengthAdjust="spacingAndGlyphs">ø394</text>
<line x1="2047.8" y1="522.2" x2="2237.0" y2="522.2" class="d"/>
<line x1="2047.8" y1="979.8" x2="2237.0" y2="979.8" class="d"/>
<line x1="2225.4" y1="522.2" x2="2225.4" y2="979.8" class="d"/>
<path d="M2225.4,522.2 L2228.0,533.2 L2222.8,533.2Z" fill="#6e6e6e"/>
<path d="M2225.4,979.8 L2222.8,968.8 L2228.0,968.8Z" fill="#6e6e6e"/>
<text transform="translate(2220.4,750.6) rotate(-90)" font-size="28.5" text-anchor="middle" textLength="59.3" lengthAdjust="spacingAndGlyphs">ø340</text>
<line x1="2068.8" y1="649.3" x2="2186.0" y2="649.3" class="d"/>
<line x1="2068.8" y1="851.2" x2="2186.0" y2="851.2" class="d"/>
<line x1="2175.4" y1="649.3" x2="2175.4" y2="851.2" class="d"/>
<path d="M2175.4,649.3 L2178.0,660.3 L2172.8,660.3Z" fill="#6e6e6e"/>
<path d="M2175.4,851.2 L2172.8,840.2 L2178.0,840.2Z" fill="#6e6e6e"/>
<text transform="translate(2170.4,750.6) rotate(-90)" font-size="28.5" text-anchor="middle" textLength="88.2" lengthAdjust="spacingAndGlyphs">ø150h6</text>
<line x1="2068.8" y1="672.9" x2="2139.0" y2="672.9" class="d"/>
<line x1="2068.8" y1="828.3" x2="2139.0" y2="828.3" class="d"/>
<line x1="2127.5" y1="672.9" x2="2127.5" y2="828.3" class="d"/>
<path d="M2127.5,672.9 L2130.1,683.9 L2124.9,683.9Z" fill="#6e6e6e"/>
<path d="M2127.5,828.3 L2124.9,817.3 L2130.1,817.3Z" fill="#6e6e6e"/>
<text transform="translate(2122.5,750.6) rotate(-90)" font-size="28.5" text-anchor="middle" textLength="59.3" lengthAdjust="spacingAndGlyphs">ø115</text>
<line x1="1798.3" y1="987.5" x2="1840.8" y2="936.6" class="d"/>
<line x1="1840.8" y1="936.6" x2="1957.7" y2="936.6" class="d"/>
<rect x="433.8" y="1598.9" width="598.8" height="370.9" fill="url(#gBody)" stroke="#111" stroke-width="3.0"/>
<path d="M433.8,1646.5 H574.7 V1969.8" class="k" />
<path d="M1032.6,1646.5 H891.7 V1969.8" class="k" />
<rect x="272.8" y="1760.8" width="161.0" height="80.2" fill="url(#gShaft)"/>
<path d="M433.8,1760.8 H272.8 V1841 H433.8" class="k" />
<rect x="272.8" y="1788.5" width="148.3" height="25.2" rx="12.6" fill="none" class="k"/>
<rect x="1032.6" y="1760.8" width="161.9" height="80.2" fill="url(#gShaft)"/>
<path d="M1032.6,1760.8 H1194.5 V1841 H1032.6" class="k" />
<rect x="1045.8" y="1788.5" width="148.7" height="25.2" rx="12.6" fill="none" class="k"/>
<rect x="446.9" y="1969.8" width="572.6" height="27.7" fill="url(#gFlH)" stroke="#111" stroke-width="3.0"/>
<rect x="467.8" y="1997.5" width="530.8" height="34.0" fill="url(#gFlH)" stroke="#111" stroke-width="3.0"/>
<rect x="503.8" y="2031.5" width="459.3" height="19.5" fill="url(#gFlH)" stroke="#111" stroke-width="3.0"/>
<rect x="632.1" y="2051" width="202.2" height="20.4" fill="url(#gFlH)" stroke="#111" stroke-width="3.0"/>
<line x1="732.7" y1="1580" x2="732.7" y2="2074" class="b" stroke-dasharray="92 16 19 16 87 16 19 16 86 16 19 16 86"/>
<path d="M259.7,1801.6 H367.4" class="b"/>
<line x1="384.4" y1="1801.6" x2="1206.7" y2="1801.6" class="b" stroke-dasharray="17 17 84 17"/>
<circle cx="1760.7" cy="1772.5" r="39" fill="url(#gDisc)" stroke="#111" stroke-width="3.2"/>
<rect x="1748.2" y="1726.4" width="24.9" height="15.3" fill="#fff" stroke="#111" stroke-width="2.8"/>
<line x1="1702.8" y1="1772.5" x2="1817.8" y2="1772.5" class="b" stroke-dasharray="39 11.5 14 12 39"/>
<line x1="1760.7" y1="1715" x2="1760.7" y2="1829.9" class="b" stroke-dasharray="38.5 11.5 14 12 39"/>
<line x1="1748.2" y1="1687.0" x2="1748.2" y2="1726.4" class="d"/>
<line x1="1773.1" y1="1687.0" x2="1773.1" y2="1726.4" class="d"/>
<line x1="1723.5" y1="1698.3" x2="1748.2" y2="1698.3" class="d"/>
<path d="M1748.2,1698.3 L1737.2,1700.9 L1737.2,1695.7Z" fill="#6e6e6e"/>
<line x1="1773.1" y1="1698.3" x2="1932.0" y2="1698.3" class="d"/>
<path d="M1773.1,1698.3 L1784.1,1695.7 L1784.1,1700.9Z" fill="#6e6e6e"/>
<text x="1864" y="1692.8" font-size="26" text-anchor="middle" textLength="127" lengthAdjust="spacingAndGlyphs">18±0.015</text>
<line x1="1773.1" y1="1726.4" x2="1869.2" y2="1726.4" class="d"/>
<line x1="1770.0" y1="1813.0" x2="1869.2" y2="1813.0" class="d"/>
<line x1="1858.5" y1="1726.4" x2="1858.5" y2="1813.0" class="d"/>
<path d="M1858.5,1726.4 L1861.1,1737.4 L1855.9,1737.4Z" fill="#6e6e6e"/>
<path d="M1858.5,1813.0 L1855.9,1802.0 L1861.1,1802.0Z" fill="#6e6e6e"/>
<text transform="translate(1847.5,1802.8) rotate(-90)" font-size="27">64</text>
<text transform="translate(1831.5,1777.5) rotate(-90)" font-size="17">0</text>
<text transform="translate(1854,1774.5) rotate(-90)" font-size="18" textLength="40" lengthAdjust="spacingAndGlyphs">-0.2</text>
<text x="250.7" y="437.7" font-size="26" textLength="77.0" lengthAdjust="spacingAndGlyphs">8-ø18</text>
<path transform="translate(328.5,415.5) scale(0.2600)" d="M12,10 L20,20 M4,40 L18,40 L18,76 M6,90 L26,80 L50,86 L96,90 M36,6 L80,6 L62,18 M40,26 L40,74 M40,26 L86,26 L86,70 L78,74 M40,42 L86,42 M40,58 L86,58 M63,18 L63,76" fill="none" stroke="#606060" stroke-width="8.5" stroke-linejoin="round"/>
<path transform="translate(357.0,415.5) scale(0.2600)" d="M8,10 L42,10 L28,26 M28,26 L28,88 L20,84 M4,50 L46,46 M64,4 L64,80 L72,90 L96,90 L96,72" fill="none" stroke="#606060" stroke-width="8.5" stroke-linejoin="round"/>
<line x1="250.7" y1="443.8" x2="386.8" y2="443.8" class="d"/>
<line x1="386.8" y1="443.8" x2="508.2" y2="476.8" class="d"/>
<text x="95.4" y="549.2" font-size="26" textLength="145.0" lengthAdjust="spacingAndGlyphs">8-M12X1.75</text>
<path transform="translate(241.9,526.2) scale(0.2600)" d="M8,14 L16,22 M4,40 L14,48 M4,86 L18,60 M36,10 L36,26 M36,10 L96,10 L96,26 M56,16 L46,30 M76,16 L86,30 M34,54 L96,54 M65,38 L65,96 M64,56 L36,88 M66,56 L96,86" fill="none" stroke="#606060" stroke-width="8.5" stroke-linejoin="round"/>
<text x="269.4" y="549.2" font-size="26" textLength="29.0" lengthAdjust="spacingAndGlyphs">25</text>
<path transform="translate(299.9,526.2) scale(0.2600)" d="M8,10 L42,10 L28,26 M28,26 L28,88 L20,84 M4,50 L46,46 M64,4 L64,80 L72,90 L96,90 L96,72" fill="none" stroke="#606060" stroke-width="8.5" stroke-linejoin="round"/>
<path transform="translate(328.9,526.2) scale(0.2600)" d="M8,14 L16,22 M4,40 L14,48 M4,86 L18,60 M36,10 L36,26 M36,10 L96,10 L96,26 M56,16 L46,30 M76,16 L86,30 M34,54 L96,54 M65,38 L65,96 M64,56 L36,88 M66,56 L96,86" fill="none" stroke="#606060" stroke-width="8.5" stroke-linejoin="round"/>
<text x="356.4" y="549.2" font-size="26" textLength="29.0" lengthAdjust="spacingAndGlyphs">30</text>
<line x1="95.4" y1="555.3" x2="386.0" y2="555.3" class="d"/>
<line x1="386.0" y1="555.3" x2="453.5" y2="633.3" class="d"/>
<text x="196.9" y="583.0" font-size="26" textLength="85.2" lengthAdjust="spacingAndGlyphs">PCD450</text>
<text x="95.4" y="677.2" font-size="26" textLength="145.0" lengthAdjust="spacingAndGlyphs">6-M12X1.75</text>
<path transform="translate(241.9,654.2) scale(0.2600)" d="M8,14 L16,22 M4,40 L14,48 M4,86 L18,60 M36,10 L36,26 M36,10 L96,10 L96,26 M56,16 L46,30 M76,16 L86,30 M34,54 L96,54 M65,38 L65,96 M64,56 L36,88 M66,56 L96,86" fill="none" stroke="#606060" stroke-width="8.5" stroke-linejoin="round"/>
<text x="269.4" y="677.2" font-size="26" textLength="29.0" lengthAdjust="spacingAndGlyphs">25</text>
<path transform="translate(299.9,654.2) scale(0.2600)" d="M8,10 L42,10 L28,26 M28,26 L28,88 L20,84 M4,50 L46,46 M64,4 L64,80 L72,90 L96,90 L96,72" fill="none" stroke="#606060" stroke-width="8.5" stroke-linejoin="round"/>
<path transform="translate(328.9,654.2) scale(0.2600)" d="M8,14 L16,22 M4,40 L14,48 M4,86 L18,60 M36,10 L36,26 M36,10 L96,10 L96,26 M56,16 L46,30 M76,16 L86,30 M34,54 L96,54 M65,38 L65,96 M64,56 L36,88 M66,56 L96,86" fill="none" stroke="#606060" stroke-width="8.5" stroke-linejoin="round"/>
<text x="356.4" y="677.2" font-size="26" textLength="29.0" lengthAdjust="spacingAndGlyphs">30</text>
<line x1="95.4" y1="683.0" x2="386.0" y2="683.0" class="d"/>
<line x1="386.0" y1="683.0" x2="558.3" y2="649.4" class="d"/>
<text x="196.9" y="710.7" font-size="26" textLength="85.2" lengthAdjust="spacingAndGlyphs">PCD300</text>
<text x="95.4" y="805.5" font-size="26" textLength="145.0" lengthAdjust="spacingAndGlyphs">6-M12X1.75</text>
<path transform="translate(241.9,782.5) scale(0.2600)" d="M8,14 L16,22 M4,40 L14,48 M4,86 L18,60 M36,10 L36,26 M36,10 L96,10 L96,26 M56,16 L46,30 M76,16 L86,30 M34,54 L96,54 M65,38 L65,96 M64,56 L36,88 M66,56 L96,86" fill="none" stroke="#606060" stroke-width="8.5" stroke-linejoin="round"/>
<text x="269.4" y="805.5" font-size="26" textLength="29.0" lengthAdjust="spacingAndGlyphs">25</text>
<path transform="translate(299.9,782.5) scale(0.2600)" d="M8,10 L42,10 L28,26 M28,26 L28,88 L20,84 M4,50 L46,46 M64,4 L64,80 L72,90 L96,90 L96,72" fill="none" stroke="#606060" stroke-width="8.5" stroke-linejoin="round"/>
<path transform="translate(328.9,782.5) scale(0.2600)" d="M8,14 L16,22 M4,40 L14,48 M4,86 L18,60 M36,10 L36,26 M36,10 L96,10 L96,26 M56,16 L46,30 M76,16 L86,30 M34,54 L96,54 M65,38 L65,96 M64,56 L36,88 M66,56 L96,86" fill="none" stroke="#606060" stroke-width="8.5" stroke-linejoin="round"/>
<text x="356.4" y="805.5" font-size="26" textLength="29.0" lengthAdjust="spacingAndGlyphs">30</text>
<line x1="95.4" y1="812.0" x2="386.0" y2="812.0" class="d"/>
<line x1="386.0" y1="812.0" x2="616.3" y2="817.9" class="d"/>
<text x="196.9" y="838.5" font-size="26" textLength="85.2" lengthAdjust="spacingAndGlyphs">PCD200</text>
<path transform="translate(1040.8,377.5) scale(0.2600)" d="M26,4 L8,40 M18,28 L18,96 M63,2 L65,12 M36,14 L96,14 M46,24 L86,24 L86,38 L46,38 L46,24 M36,58 L36,48 L96,48 L96,58 M46,66 L86,66 M66,66 L66,96 L58,92" fill="none" stroke="#606060" stroke-width="8.5" stroke-linejoin="round"/>
<path transform="translate(1069.4,377.5) scale(0.2600)" d="M50,6 L50,88 M50,44 L82,44 M22,36 L22,88 M4,88 L96,88" fill="none" stroke="#606060" stroke-width="8.5" stroke-linejoin="round"/>
<path transform="translate(1098.0,377.5) scale(0.2600)" d="M28,4 L8,40 M18,28 L18,96 M64,4 L68,16 M38,24 L94,24 M50,38 L57,72 M86,36 L74,74 M34,86 L96,86" fill="none" stroke="#606060" stroke-width="8.5" stroke-linejoin="round"/>
<path transform="translate(1126.6,377.5) scale(0.2600)" d="M10,6 L90,6 L90,24 L10,24 L10,6 M37,6 L37,24 M63,6 L63,24 M14,34 L86,34 M50,26 L50,42 M30,44 L76,44 L76,84 L30,84 L30,44 M30,57 L76,57 M30,70 L76,70 M18,40 L18,92 M4,92 L96,92" fill="none" stroke="#606060" stroke-width="8.5" stroke-linejoin="round"/>
<line x1="1037.4" y1="406.3" x2="1154.5" y2="406.3" class="d"/>
<line x1="1037.4" y1="406.3" x2="733.2" y2="548.4" class="d"/>
<path transform="translate(1846.0,910.5) scale(0.2500)" d="M50,2 L54,12 M22,18 L86,18 L86,38 L22,38 M22,18 L22,58 L6,94 M36,54 L88,54 L88,90 L36,90 L36,54" fill="none" stroke="#606060" stroke-width="8.5" stroke-linejoin="round"/>
<path transform="translate(1874.0,910.5) scale(0.2500)" d="M8,14 L40,14 M4,34 L44,34 M24,34 L10,70 L42,64 M34,54 L46,74 M54,30 L96,30 L92,86 L82,92 M72,6 L70,54 L54,94" fill="none" stroke="#606060" stroke-width="8.5" stroke-linejoin="round"/>
<path transform="translate(1902.0,910.5) scale(0.2500)" d="M28,4 L8,40 M18,28 L18,96 M64,4 L68,16 M38,24 L94,24 M50,38 L57,72 M86,36 L74,74 M34,86 L96,86" fill="none" stroke="#606060" stroke-width="8.5" stroke-linejoin="round"/>
<path transform="translate(1930.0,910.5) scale(0.2500)" d="M10,6 L90,6 L90,24 L10,24 L10,6 M37,6 L37,24 M63,6 L63,24 M14,34 L86,34 M50,26 L50,42 M30,44 L76,44 L76,84 L30,84 L30,44 M30,57 L76,57 M30,70 L76,70 M18,40 L18,92 M4,92 L96,92" fill="none" stroke="#606060" stroke-width="8.5" stroke-linejoin="round"/>
<path transform="translate(1773.8,323.7) scale(0.2550)" d="M8,14 L16,22 M4,40 L14,48 M4,86 L18,60 M38,26 L92,26 M65,6 L65,50 M32,50 L98,50 M60,54 L40,88 L92,80 M78,66 L92,92" fill="none" stroke="#606060" stroke-width="8.5" stroke-linejoin="round"/>
<path transform="translate(1802.8,323.7) scale(0.2550)" d="M30,4 L38,16 M70,4 L62,16 M16,26 L84,26 M22,56 L78,56 M4,90 L96,90" fill="none" stroke="#606060" stroke-width="8.5" stroke-linejoin="round"/>
<path transform="translate(1831.9,323.7) scale(0.2550)" d="M4,8 L96,8 M50,8 L42,24 M12,26 L88,26 L88,94 M12,26 L12,94 L88,94 M38,26 L38,94 M62,26 L62,94 M38,50 L62,50 M38,70 L62,70" fill="none" stroke="#606060" stroke-width="8.5" stroke-linejoin="round"/>
<path transform="translate(1861.0,323.7) scale(0.2550)" d="M50,0 L50,10 M6,12 L94,12 M30,22 L70,22 L70,38 L30,38 L30,22 M12,96 L12,48 L88,48 L88,94 L80,90 M32,60 L68,60 L68,80 L32,80 L32,60" fill="none" stroke="#606060" stroke-width="8.5" stroke-linejoin="round"/>
<path transform="translate(1890.0,323.7) scale(0.2550)" d="M55,0 L55,10 M14,12 L94,12 M14,12 L14,60 L4,94 M26,30 L90,30 M38,22 L38,48 M70,22 L70,48 M38,48 L70,48 M30,60 L80,60 L42,94 M46,68 L92,96" fill="none" stroke="#606060" stroke-width="8.5" stroke-linejoin="round"/>
<path transform="translate(1722.0,1845.6) scale(0.2600)" d="M4,22 L40,22 M24,4 L10,50 L40,50 M22,34 L22,96 M4,76 L42,72 M72,4 L48,32 M72,4 L96,30 M56,36 L86,36 M50,46 L70,46 L70,94 M50,46 L50,96 M50,62 L70,62 M50,78 L70,78 M82,48 L82,82 M93,44 L93,96 L86,92" fill="none" stroke="#606060" stroke-width="8.5" stroke-linejoin="round"/>
<path transform="translate(1751.2,1845.6) scale(0.2600)" d="M34,8 L50,14 L50,42 L14,94 M50,42 L92,94" fill="none" stroke="#606060" stroke-width="8.5" stroke-linejoin="round"/>
<path transform="translate(1780.4,1845.6) scale(0.2600)" d="M4,22 L40,22 M24,4 L10,50 L40,50 M22,34 L22,96 M4,76 L42,72 M50,30 L96,30 L96,94 L50,94 L50,30 M73,4 L73,94 M50,62 L96,62" fill="none" stroke="#606060" stroke-width="8.5" stroke-linejoin="round"/>
</svg></body></html>
